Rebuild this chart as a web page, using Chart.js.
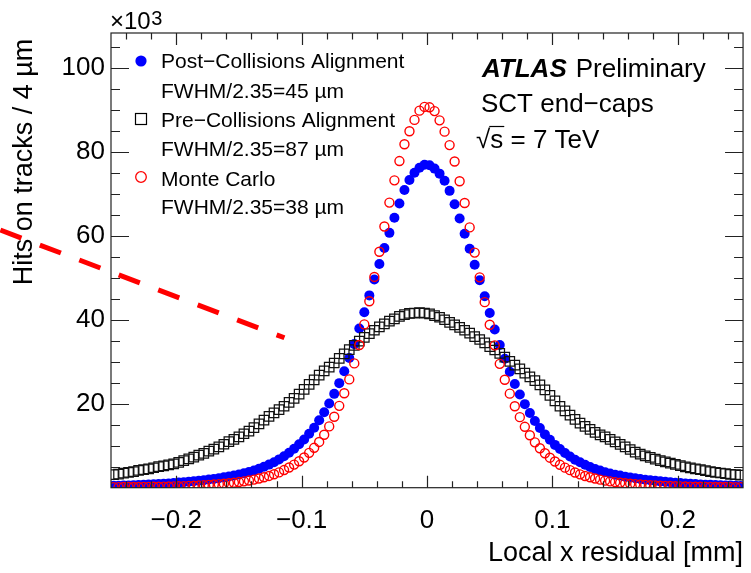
<!DOCTYPE html>
<html><head><meta charset="utf-8">
<script src="https://cdn.jsdelivr.net/npm/chart.js@4.4.1/dist/chart.umd.min.js"></script>
<style>html,body{margin:0;padding:0;background:#fff}canvas{display:block}</style>
</head><body>
<canvas id="c" width="751" height="573" style="width:751px;height:573px"></canvas>
<script>
// ---- data (x in mm, y in thousands of hits) ----
const binCenters = [-0.250,-0.246,-0.242,-0.238,-0.234,-0.230,-0.226,-0.222,-0.218,-0.214,-0.210,-0.206,-0.202,-0.198,-0.194,-0.190,-0.186,-0.182,-0.178,-0.174,-0.170,-0.166,-0.162,-0.158,-0.154,-0.150,-0.146,-0.142,-0.138,-0.134,-0.130,-0.126,-0.122,-0.118,-0.114,-0.110,-0.106,-0.102,-0.098,-0.094,-0.090,-0.086,-0.082,-0.078,-0.074,-0.070,-0.066,-0.062,-0.058,-0.054,-0.050,-0.046,-0.042,-0.038,-0.034,-0.030,-0.026,-0.022,-0.018,-0.014,-0.010,-0.006,-0.002,
0.002,0.006,0.010,0.014,0.018,0.022,0.026,0.030,0.034,0.038,0.042,0.046,0.050,0.054,0.058,0.062,0.066,0.070,0.074,0.078,0.082,0.086,0.090,0.094,0.098,0.102,0.106,0.110,0.114,0.118,0.122,0.126,0.130,0.134,0.138,0.142,0.146,0.150,0.154,0.158,0.162,0.166,0.170,0.174,0.178,0.182,0.186,0.190,0.194,0.198,0.202,0.206,0.210,0.214,0.218,0.222,0.226,0.230,0.234,0.238,0.242,0.246,0.250];

const postCollisions = [0.44,0.47,0.51,0.55,0.59,0.64,0.69,0.75,0.8,0.87,0.95,1.03,1.12,1.21,1.31,1.42,1.53,1.66,1.79,1.94,2.1,2.27,2.46,2.67,2.9,3.13,3.42,3.73,4.1,4.52,4.98,5.5,6.08,6.74,7.48,8.34,9.28,10.35,11.5,12.85,14.3,16.05,17.95,20.05,22.35,24.9,27.75,30.9,34.2,37.9,41.8,45.8,49.6,53.3,57.1,60.7,64.3,67.7,70.9,73.3,75.0,76.2,76.9,
76.8,76.0,74.8,73.1,70.7,67.5,64.1,60.5,56.9,53.1,49.4,45.6,41.6,37.7,34.0,30.7,27.6,24.7,22.2,19.9,17.8,15.9,14.2,12.7,11.4,10.2,9.2,8.25,7.45,6.65,6.05,5.45,4.92,4.47,4.07,3.68,3.38,3.08,2.88,2.63,2.43,2.23,2.07,1.91,1.77,1.63,1.51,1.39,1.29,1.19,1.09,1.01,0.93,0.86,0.79,0.73,0.68,0.63,0.58,0.54,0.5,0.46,0.43];

const preCollisions = [3.1,3.25,3.45,3.65,3.85,4.1,4.3,4.5,4.75,5.0,5.2,5.45,5.7,6.05,6.45,6.85,7.3,7.75,8.2,8.7,9.2,9.75,10.35,10.95,11.5,12.1,12.85,13.5,14.3,15.2,16.1,17.0,17.8,18.6,19.4,20.3,21.3,22.3,23.4,24.6,25.7,26.8,27.8,28.7,29.7,30.8,31.9,32.9,33.9,34.9,35.8,36.7,37.5,38.3,39.0,39.7,40.2,40.8,41.2,41.5,41.6,41.7,41.6,
41.4,41.0,40.6,40.0,39.4,38.8,38.2,37.5,36.8,36.0,35.3,34.5,33.6,32.8,32.0,31.1,30.1,29.2,28.3,27.3,26.4,25.5,24.5,23.3,22.0,20.7,19.4,18.3,17.3,16.3,15.4,14.6,13.9,13.2,12.6,12.1,11.5,10.9,10.3,9.7,9.1,8.5,8.0,7.6,7.2,6.8,6.45,6.15,5.85,5.55,5.25,4.95,4.7,4.5,4.3,4.05,3.85,3.65,3.5,3.35,3.2,3.1,3.0];

const monteCarlo = [0.13,0.14,0.15,0.16,0.17,0.18,0.19,0.2,0.22,0.24,0.26,0.29,0.32,0.35,0.38,0.43,0.48,0.53,0.6,0.67,0.76,0.85,0.95,1.06,1.19,1.34,1.51,1.7,1.93,2.2,2.5,2.8,3.2,3.65,4.2,4.8,5.5,6.3,7.2,8.3,9.5,10.9,12.6,14.6,16.9,19.5,22.5,25.8,29.6,34.0,38.9,44.4,50.2,56.2,62.2,67.9,73.2,77.8,81.8,84.9,87.6,89.8,90.7,
90.6,89.7,87.5,84.8,81.6,77.7,73.0,67.8,62.0,56.0,50.1,44.2,38.8,33.9,29.5,25.7,22.4,19.4,16.8,14.5,12.5,10.8,9.4,8.2,7.15,6.25,5.45,4.78,4.18,3.62,3.18,2.79,2.48,2.18,1.92,1.69,1.5,1.33,1.18,1.05,0.94,0.84,0.75,0.67,0.6,0.53,0.48,0.43,0.39,0.35,0.32,0.29,0.26,0.24,0.22,0.2,0.19,0.18,0.17,0.16,0.15,0.14,0.13];

const seriesNames = ['Post\u2212Collisions Alignment', 'Pre\u2212Collisions Alignment', 'Monte Carlo'];
const seriesWidths = ['FWHM/2.35=45 \u00b5m', 'FWHM/2.35=87 \u00b5m', 'FWHM/2.35=38 \u00b5m'];
const xTickValues = [-0.2, -0.1, 0, 0.1, 0.2];
const yTickValues = [20, 40, 60, 80, 100];
const overlayLineX = [-0.3402, -0.1137];
const overlayLineY = [61.36, 35.71];

const xTitle = 'Local x residual [mm]';
const yTitle = 'Hits on tracks / 4 \u00b5m';

// ---- drawing ----
const FONT = '"Liberation Sans", Arial, Helvetica, sans-serif';
Chart.defaults.font.family = FONT;
Chart.defaults.color = '#000';

const pts = arr => binCenters.map((x, i) => ({x: x, y: arr[i]}));
const overlayPts = overlayLineX.map((x, i) => ({x: x, y: overlayLineY[i]}));

function fmtX(v) {
  if (Math.abs(v) < 1e-9) return '0';
  return (v < 0 ? '\u2212' : '') + Math.abs(v).toFixed(1);
}

const decor = {
  id: 'decor',
  beforeDatasetsDraw(chart) {
    const ctx = chart.ctx;
    ctx.save();
    ctx.fillStyle = '#000';
    ctx.font = '27px ' + FONT;
    ctx.translate(31.5, 162);
    ctx.rotate(-Math.PI / 2);
    ctx.textAlign = 'center';
    ctx.textBaseline = 'alphabetic';
    ctx.fillText(yTitle, 0, 0);
    ctx.restore();
  },
  afterDatasetsDraw(chart) {
    const ctx = chart.ctx, a = chart.chartArea, xs = chart.scales.x, ys = chart.scales.y;
    ctx.save();
    ctx.strokeStyle = '#222';
    ctx.lineWidth = 1.2;
    ctx.beginPath();
    for (let k = -12; k <= 12; k++) {
      const px = Math.round(xs.getPixelForValue(k * 0.02)) + 0.5;
      const L = (k % 5 === 0) ? 12 : 6.5;
      ctx.moveTo(px, a.bottom); ctx.lineTo(px, a.bottom - L);
      ctx.moveTo(px, a.top); ctx.lineTo(px, a.top + L);
    }
    for (let k = 1; k <= 21; k++) {
      const py = Math.round(ys.getPixelForValue(k * 5)) + 0.5;
      const L = (k % 4 === 0) ? 18 : 9;
      ctx.moveTo(a.left, py); ctx.lineTo(a.left + L, py);
      ctx.moveTo(a.right, py); ctx.lineTo(a.right - L, py);
    }
    ctx.stroke();
    ctx.strokeRect(a.left, a.top, a.right - a.left, a.bottom - a.top);
    ctx.restore();
  },
  afterDraw(chart) {
    const ctx = chart.ctx, a = chart.chartArea;
    ctx.save();
    ctx.fillStyle = '#000';
    ctx.textBaseline = 'alphabetic';
    // x axis title
    ctx.font = '27px ' + FONT;
    ctx.textAlign = 'right';
    ctx.fillText(xTitle, a.right, 561);
    // x10^3
    ctx.textAlign = 'left';
    ctx.font = '24px ' + FONT;
    ctx.fillText('\u00d710', 110, 28.5);
    const w10 = ctx.measureText('\u00d710').width;
    ctx.font = '20px ' + FONT;
    ctx.fillText('3', 110 + w10 + 0.5, 24.5);
    // legend
    const lx = 141, tx = 161;
    const rowsY = [68.3, 97.8, 126.7, 156.3, 185.5, 213.8];
    const markY = [61, 119, 177];
    ctx.fillStyle = '#0000ff';
    ctx.beginPath(); ctx.arc(lx, markY[0], 5.6, 0, 2 * Math.PI); ctx.fill();
    ctx.strokeStyle = '#000'; ctx.lineWidth = 1.2;
    ctx.strokeRect(lx - 5.5, markY[1] - 5.5, 11, 11);
    ctx.strokeStyle = '#ff0000'; ctx.lineWidth = 1.3;
    ctx.beginPath(); ctx.arc(lx, markY[2], 5.3, 0, 2 * Math.PI); ctx.stroke();
    ctx.fillStyle = '#000';
    ctx.font = '21px ' + FONT;
    for (let s = 0; s < 3; s++) {
      ctx.fillText(seriesNames[s], tx, rowsY[2 * s]);
      ctx.fillText(seriesWidths[s], tx, rowsY[2 * s + 1]);
    }
    // ATLAS label
    ctx.font = 'italic bold 26px ' + FONT;
    ctx.fillText('ATLAS', 482, 77.3);
    const wA = ctx.measureText('ATLAS').width;
    ctx.font = '26px ' + FONT;
    ctx.fillText('Preliminary', 482 + wA + 9, 77.3);
    ctx.fillText('SCT end\u2212caps', 481, 111.5);
    ctx.fillText('\u221a', 476, 147.7);
    const wR = ctx.measureText('\u221a').width;
    ctx.fillText('s = 7 TeV', 476 + wR, 147.7);
    const wS = ctx.measureText('s').width;
    ctx.strokeStyle = '#000'; ctx.lineWidth = 1.2;
    ctx.beginPath(); ctx.moveTo(476 + wR - 1, 126.5); ctx.lineTo(476 + wR + wS + 1, 126.5); ctx.stroke();
    ctx.restore();
  }
};

new Chart(document.getElementById('c').getContext('2d'), {
  type: 'scatter',
  data: {
    datasets: [
      {label: 'overlay', data: overlayPts, showLine: true, borderColor: '#ff0000', borderWidth: 5,
       borderDash: [22.5, 19.7], borderCapStyle: 'butt', pointRadius: 0, clip: false, fill: false, tension: 0},
      {label: seriesNames[2], data: pts(monteCarlo), pointStyle: 'circle', pointRadius: 4.5,
       pointBackgroundColor: 'rgba(255,255,255,0)', pointBorderColor: '#ff0000', pointBorderWidth: 1.4},
      {label: seriesNames[1], data: pts(preCollisions), pointStyle: 'rect', pointRadius: 6.7,
       pointBackgroundColor: 'rgba(255,255,255,0)', pointBorderColor: '#111', pointBorderWidth: 1.25},
      {label: seriesNames[0], data: pts(postCollisions), pointStyle: 'circle', pointRadius: 5.0,
       pointBackgroundColor: '#0000ff', pointBorderColor: '#0000ff', pointBorderWidth: 0}
    ]
  },
  options: {
    responsive: false, animation: false, events: [],
    layout: {padding: {left: 0, right: 6, top: 33, bottom: 0}},
    plugins: {legend: {display: false}, tooltip: {enabled: false}},
    scales: {
      x: {
        type: 'linear', min: -0.252, max: 0.252, bounds: 'data',
        grid: {display: false, drawTicks: false, tickLength: 0}, border: {display: false},
        afterBuildTicks: s => { s.ticks = xTickValues.map(v => ({value: v})); },
        afterFit: s => { s.height = 573 - 487.7; },
        ticks: {autoSkip: false, maxRotation: 0, minRotation: 0, padding: 18, font: {size: 26}, color: '#000', callback: v => fmtX(v)}
      },
      y: {
        type: 'linear', min: 0, max: 108.3, bounds: 'data',
        grid: {display: false, drawTicks: false, tickLength: 0}, border: {display: false},
        afterBuildTicks: s => { s.ticks = yTickValues.map(v => ({value: v})); },
        afterFit: s => { s.width = 111; },
        ticks: {autoSkip: false, padding: 6, font: {size: 26}, color: '#000', callback: v => String(v)}
      }
    }
  },
  plugins: [decor]
});
</script>
</body></html>
